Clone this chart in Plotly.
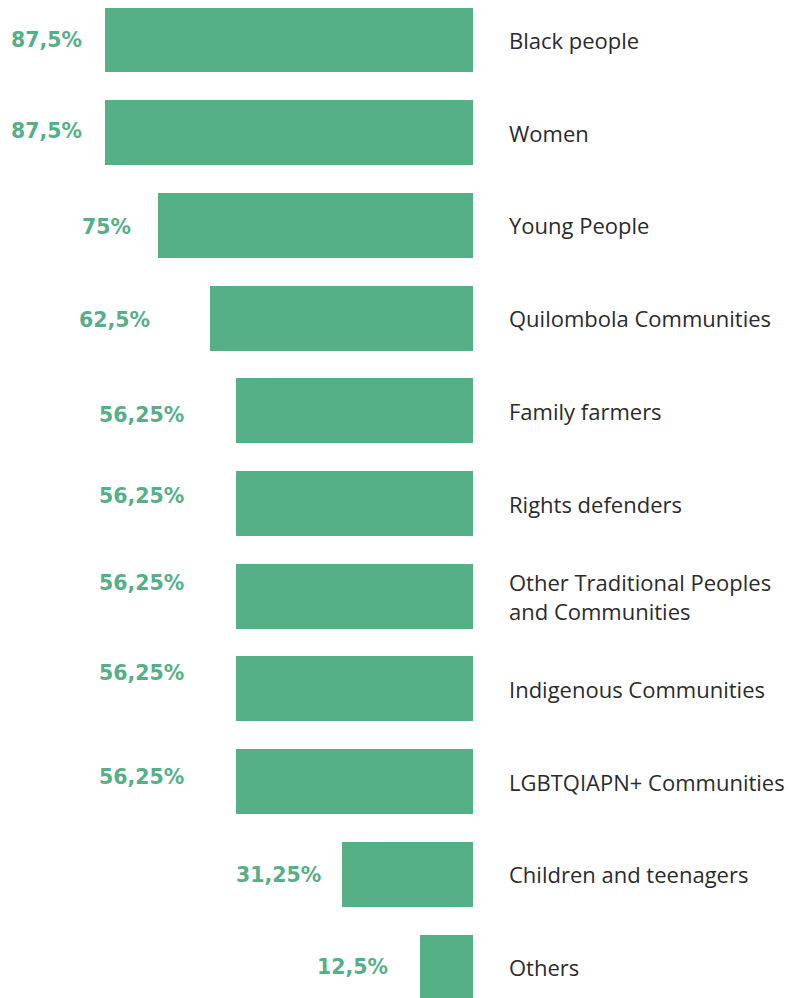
import plotly.graph_objects as go

categories = [
    "Black people",
    "Women",
    "Young People",
    "Quilombola Communities",
    "Family farmers",
    "Rights defenders",
    "Other Traditional Peoples<br>and Communities",
    "Indigenous Communities",
    "LGBTQIAPN+ Communities",
    "Children and teenagers",
    "Others",
]
values = [87.5, 87.5, 75, 62.5, 56.25, 56.25, 56.25, 56.25, 56.25, 31.25, 12.5]
value_labels = ["87,5%", "87,5%", "75%", "62,5%", "56,25%", "56,25%", "56,25%",
                "56,25%", "56,25%", "31,25%", "12,5%"]

# label placement offsets (style, px) as in the original layout
label_gap = [21, 21, 25, 58, 50, 50, 50, 50, 50, 19, 30]
label_dy = [0, 2, -2, -2, -4, 8, 13, 16, 5, -1, 0]

GREEN = "#55AF87"
TEXT = "#2b2b2b"

idx = list(range(len(categories)))

fig = go.Figure(go.Bar(
    x=values, y=idx, orientation="h", marker=dict(color=GREEN, line=dict(width=0)),
    width=0.70, hoverinfo="skip",
))

annotations = []
for i, (v, lab, cat) in enumerate(zip(values, value_labels, categories)):
    annotations.append(dict(
        x=v, y=i, xref="x", yref="y", text=lab, showarrow=False,
        xanchor="right", yanchor="middle",
        xshift=-label_gap[i], yshift=label_dy[i],
        font=dict(family="DejaVu Sans", size=20.5, color=GREEN, weight="bold"),
    ))
    annotations.append(dict(
        x=0.6183, y=i, xref="paper", yref="y", text=cat, showarrow=False,
        xanchor="left", yanchor="middle", align="left",
        font=dict(family="Open Sans", size=22, color=TEXT),
    ))

fig.update_layout(
    width=807, height=998,
    margin=dict(l=0, r=0, t=0, b=0),
    paper_bgcolor="white", plot_bgcolor="white",
    showlegend=False,
    xaxis=dict(range=[110.56, -81.31], visible=False, fixedrange=True),
    yaxis=dict(range=[10.42, -0.345], visible=False, fixedrange=True),
    annotations=annotations,
    bargap=0,
)

fig.write_html("out.html")
